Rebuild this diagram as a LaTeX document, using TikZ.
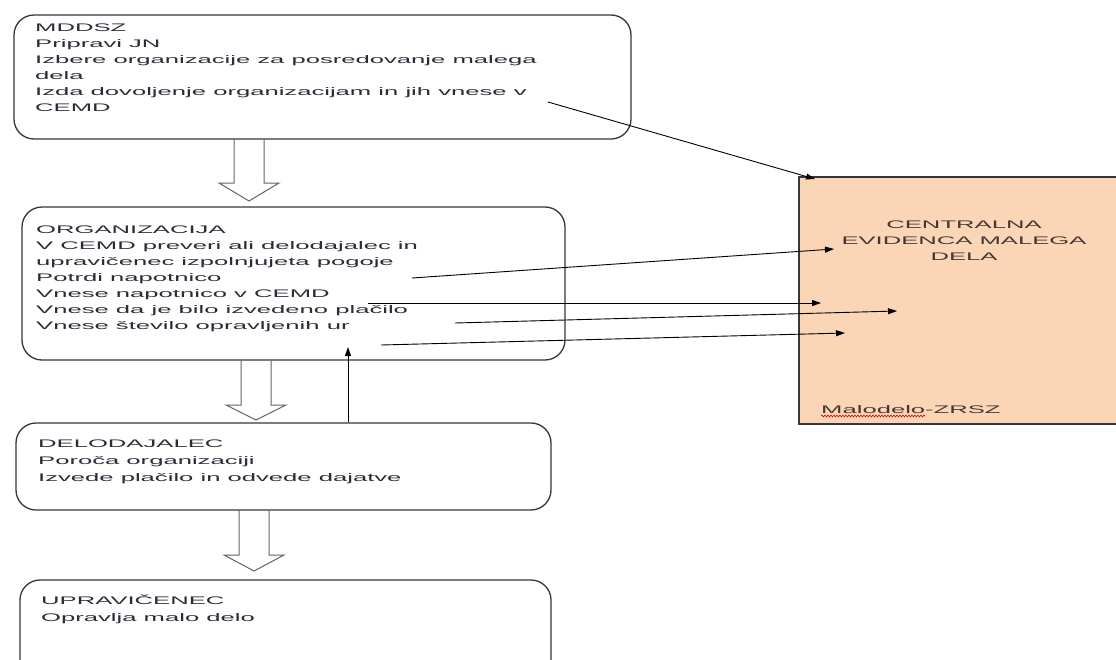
\documentclass[tikz,border=0pt]{standalone}
\usepackage{fontspec}
\newfontfamily\rf[FakeStretch=2.33]{Liberation Sans}
\usetikzlibrary{arrows.meta,calc,decorations.pathmorphing}
\definecolor{peach}{RGB}{250,213,182}
\definecolor{txtc}{RGB}{50,40,56}
\definecolor{ptxt}{RGB}{70,54,48}
\definecolor{boxc}{RGB}{55,55,55}
\definecolor{bac}{RGB}{100,100,100}
\tikzset{
  box/.style={draw=boxc, line width=1.3pt, rounded corners=20pt, fill=white, inner sep=0pt},
  txt/.style={anchor=north west, inner sep=0pt, align=left, text=txtc, font=\rf\fontsize{11}{16}\selectfont},
  blockarrow/.style={draw=bac, line width=1pt},
  conn/.style={draw=black, line width=0.9pt, -{Triangle[length=9pt,width=6pt]}}
}
\newcommand{\blkarrow}[4]{\draw[blockarrow] (#1-15,#2) -- (#1-15,#3) -- (#1-30,#3) -- (#1,#4) -- (#1+30,#3) -- (#1+15,#3) -- (#1+15,#2);}
\begin{document}
\begin{tikzpicture}[x=1pt,y=-1pt]
\useasboundingbox (0,0) rectangle (1116,659);
\clip (0,0) rectangle (1116,659);
\fill[white] (0,0) rectangle (1116,659);

% boxes
\node[box, minimum width=617pt, minimum height=124pt] (mddsz) at (322.5,77) {};
\node[box, minimum width=543pt, minimum height=153pt] (org) at (293.5,283.5) {};
\node[box, minimum width=535pt, minimum height=87pt] (del) at (283.5,466.5) {};
\node[box, minimum width=531pt, minimum height=130pt] (upr) at (285.5,645) {};
\node[draw=boxc, line width=1.1pt, fill=peach, minimum width=330pt, minimum height=247pt, inner sep=0pt] (cemd) at (964,300.5) {};

% texts
\node[txt] (tm) at (35,22) {\rule{0pt}{9pt}MDDSZ\\Pripravi JN\\Izbere organizacije za posredovanje malega\\dela\\Izda dovoljenje organizacijam in jih vnese v\\CEMD};
\node[txt] (to) at (36,224) {\rule{0pt}{9pt}ORGANIZACIJA\\V CEMD preveri ali delodajalec in\\upravičenec izpolnjujeta pogoje\\Potrdi napotnico\\Vnese napotnico v CEMD\\Vnese da je bilo izvedeno plačilo\\Vnese število opravljenih ur};
\node[txt, font=\rf\fontsize{11}{17}\selectfont] (td) at (38,438) {\rule{0pt}{9pt}DELODAJALEC\\Poroča organizaciji\\Izvede plačilo in odvede dajatve};
\node[txt, font=\rf\fontsize{11}{17}\selectfont] (tu) at (41,595) {\rule{0pt}{9pt}UPRAVIČENEC\\Opravlja malo delo};
\node[anchor=north, inner sep=0pt, align=center, text=ptxt, font=\rf\fontsize{11}{16}\selectfont] (tc) at (964,219) {\rule{0pt}{9pt}CENTRALNA\\EVIDENCA MALEGA\\DELA};
\node[anchor=base west, inner sep=0pt, text=ptxt, font=\rf\fontsize{11}{16}\selectfont] (tz) at (821,413) {Malodelo-ZRSZ};
\draw[red!85!black, line width=0.6pt, decorate, decoration={snake, amplitude=0.9pt, segment length=3pt}] ($(tz.base west)+(0,3)$) -- ($(tz.base west)+(104,3)$);

% block arrows
\blkarrow{249}{139}{183}{201}
\blkarrow{256}{360}{405}{420}
\blkarrow{254}{510}{555}{571}

% vertical arrow
\coordinate (vu) at (348,347);
\draw[conn] (vu |- del.north) -- (vu);

% connectors to CEMD
\coordinate (s1) at (548,102); \coordinate (e1) at (815,179);
\coordinate (s2) at (412,278); \coordinate (e2) at (834,249);
\coordinate (s3) at (368,303); \coordinate (e3) at (821,303);
\coordinate (s4) at (455,323); \coordinate (e4) at (897,311);
\coordinate (s5) at (381,345); \coordinate (e5) at (845,333);
\draw[conn] (s1) -- (e1);
\draw[conn] (s2) -- (e2);
\draw[conn] (s3) -- (e3);
\draw[conn] (s4) -- (e4);
\draw[conn] (s5) -- (e5);
\end{tikzpicture}
\end{document}
